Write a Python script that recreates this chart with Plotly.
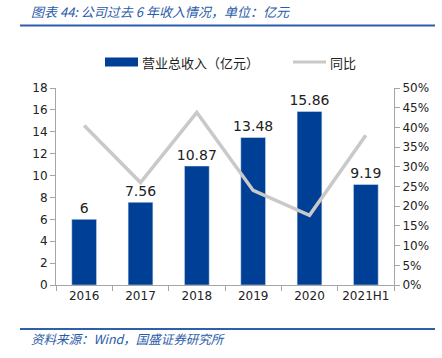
import plotly.graph_objects as go

categories = ["2016", "2017", "2018", "2019", "2020", "2021H1"]
revenue = [6, 7.56, 10.87, 13.48, 15.86, 9.19]
yoy = [0.405, 0.26, 0.438, 0.24, 0.177, 0.38]
revenue_labels = ["6", "7.56", "10.87", "13.48", "15.86", "9.19"]
left_ticks = list(range(0, 19, 2))
right_ticks = [i / 20 for i in range(0, 11)]
right_tick_text = [f"{i*5}%" for i in range(0, 11)]

BAR = "#003F96"
LINE = "#C9C9C9"
BLUE_T = "#2B5BA8"
AXIS = "#A6A6A6"
TICKFONT = dict(family="DejaVu Sans, Verdana, sans-serif", size=12, color="#222")

L, R, T, B = 56, 48, 88, 73
PW = 442 - L - R
PH = 358 - T - B


def px(x):
    return (x - L) / PW


def py(y):
    return (358 - B - y) / PH


fig = go.Figure()
fig.add_trace(go.Bar(
    x=categories, y=revenue, marker_color=BAR, width=0.44,
    text=revenue_labels, textposition="outside", cliponaxis=False,
    constraintext="none",
    textfont=dict(family="DejaVu Sans, Verdana, sans-serif", size=14, color="#222"),
    showlegend=False, name="营业总收入（亿元）", hoverinfo="skip",
))
fig.add_trace(go.Scatter(
    x=categories, y=yoy, yaxis="y2", mode="lines",
    line=dict(color=LINE, width=3.5), showlegend=False, name="同比",
    hoverinfo="skip",
))

fig.update_layout(
    width=442, height=358,
    margin=dict(l=L, r=R, t=T, b=B, autoexpand=False),
    paper_bgcolor="white", plot_bgcolor="white",
    xaxis=dict(
        type="category", showline=True, linecolor=AXIS, linewidth=1,
        ticks="outside", tickson="boundaries", ticklen=5, tickcolor=AXIS,
        tickfont=TICKFONT, showgrid=False, tickangle=0, automargin=False,
    ),
    yaxis=dict(
        range=[0, 18], tickvals=left_ticks, showline=True, linecolor=AXIS,
        ticks="outside", ticklen=5, tickcolor=AXIS, tickfont=TICKFONT,
        showgrid=False, zeroline=False, automargin=False,
    ),
    yaxis2=dict(
        range=[0, 0.5], tickvals=right_ticks, ticktext=right_tick_text,
        overlaying="y", side="right", showline=True, linecolor=AXIS,
        ticks="outside", ticklen=5, tickcolor=AXIS, tickfont=TICKFONT,
        showgrid=False, zeroline=False, automargin=False,
    ),
    font=dict(family="Noto Sans CJK SC, sans-serif"),
)

# header / footer rules
fig.add_shape(type="line", xref="paper", yref="paper",
              x0=px(20), x1=px(435), y0=py(25.5), y1=py(25.5),
              line=dict(color="#2E5FAE", width=2))
fig.add_shape(type="line", xref="paper", yref="paper",
              x0=px(20), x1=px(435), y0=py(329), y1=py(329),
              line=dict(color="#2E5FAE", width=2))
fig.add_annotation(xref="paper", yref="paper", x=px(29), y=py(12),
                   xanchor="left", yanchor="middle", showarrow=False,
                   text="<i>图表 44: 公司过去 6 年收入情况，单位：亿元</i>",
                   font=dict(family="Noto Sans CJK SC", size=13, color=BLUE_T))
fig.add_annotation(xref="paper", yref="paper", x=px(29), y=py(338),
                   xanchor="left", yanchor="middle", showarrow=False,
                   text="<i>资料来源：Wind，国盛证券研究所</i>",
                   font=dict(family="Noto Sans CJK SC", size=12.5, color=BLUE_T))

# legend
ly = py(62)
fig.add_shape(type="rect", xref="paper", yref="paper",
              x0=px(105), x1=px(138), y0=ly - 4.5 / PH, y1=ly + 4.5 / PH,
              fillcolor=BAR, line=dict(width=0))
fig.add_annotation(xref="paper", yref="paper", x=px(140), y=ly,
                   xanchor="left", yanchor="middle", showarrow=False,
                   text="营业总收入（亿元）",
                   font=dict(family="Noto Sans CJK SC", size=13, color="#222"))
fig.add_shape(type="line", xref="paper", yref="paper",
              x0=px(293), x1=px(326), y0=ly, y1=ly,
              line=dict(color=LINE, width=3))
fig.add_annotation(xref="paper", yref="paper", x=px(328), y=ly,
                   xanchor="left", yanchor="middle", showarrow=False,
                   text="同比",
                   font=dict(family="Noto Sans CJK SC", size=13, color="#222"))

fig.write_html("out.html", config={"displayModeBar": False},
               post_script="document.body.style.margin='0';")
